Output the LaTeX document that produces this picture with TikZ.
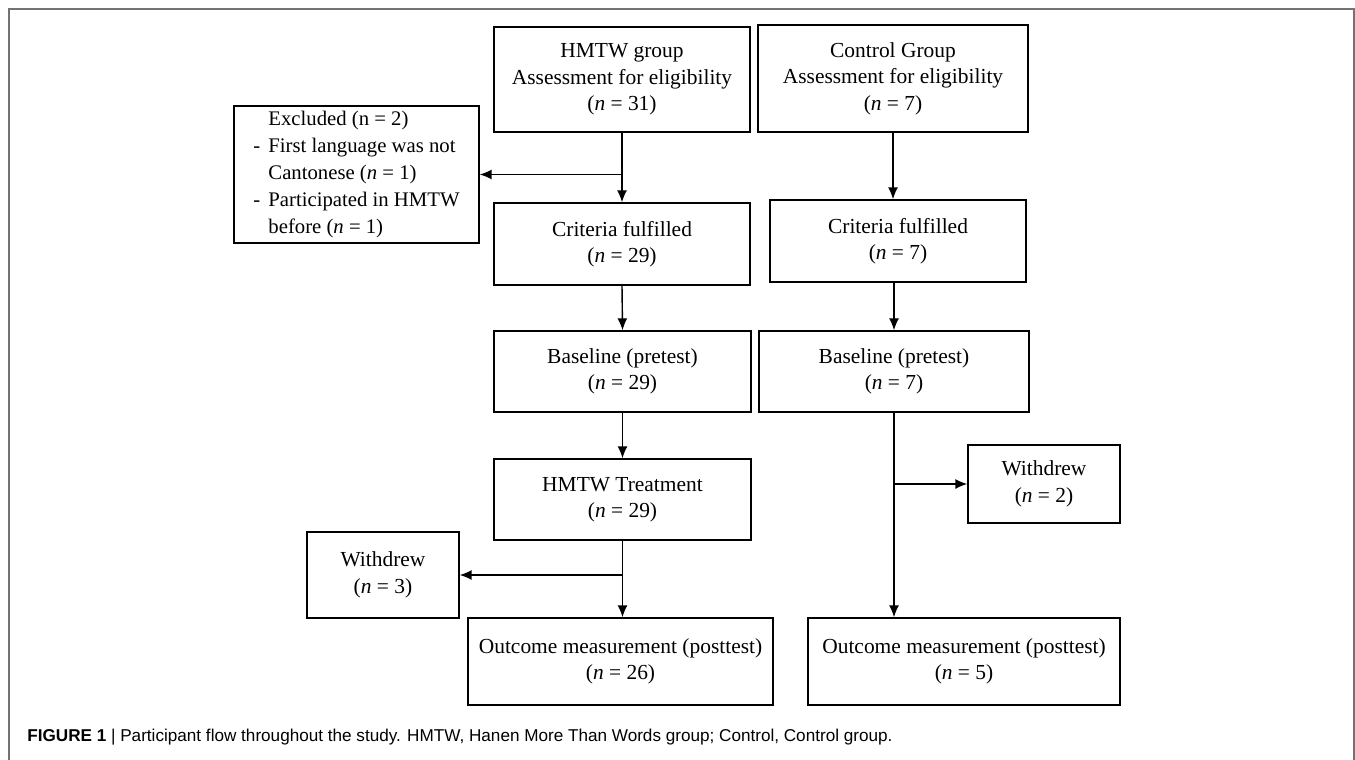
\documentclass[tikz,border=0pt]{standalone}
\usepackage{fontspec}
\setmainfont{Liberation Serif}
\newfontfamily\capfont{Liberation Sans}
\usetikzlibrary{arrows.meta}
\newcommand\nval[1]{(\textit{n} = #1)}
\newcommand\dashitem{\makebox[0.3cm][l]{-}}
\tikzset{
  flowbox/.style={draw, line width=0.8pt, align=center, inner sep=0pt,
    font=\fontsize{12.2}{15}\selectfont},
  flowarrow/.style={line width=0.8pt, -{Latex[length=0.24cm,width=0.2cm]}},
}

\begin{document}
\begin{tikzpicture}[x=0.02cm, y=-0.02cm]
\useasboundingbox (0,0) rectangle (1355,760);
\draw[line width=1pt, black!55] (9,760) -- (9,9) -- (1354,9) -- (1354,760);

\node[flowbox, minimum width=5.12cm, minimum height=2.10cm] (hmtwAssess) at (622,79.5)
  {HMTW group\\Assessment for eligibility\\\nval{31}};
\node[flowbox, minimum width=5.40cm, minimum height=2.14cm] (ctrlAssess) at (893,78.5)
  {Control Group\\Assessment for eligibility\\\nval{7}};

\node[flowbox, minimum width=4.90cm, minimum height=2.74cm, align=left,
  font=\fontsize{11.8}{15.3}\selectfont] (excluded) at (356.5,174.5)
  {\hspace*{0.3cm}Excluded (n = 2)\\
   \dashitem First language was not\\
   \hspace*{0.3cm}Cantonese \nval{1}\\
   \dashitem Participated in HMTW\\
   \hspace*{0.3cm}before \nval{1}};

\node[flowbox, minimum width=5.12cm, minimum height=1.64cm] (hmtwCrit) at (622,244)
  {Criteria fulfilled\\\nval{29}};
\node[flowbox, minimum width=5.12cm, minimum height=1.64cm] (ctrlCrit) at (898,241)
  {Criteria fulfilled\\\nval{7}};

\node[flowbox, minimum width=5.14cm, minimum height=1.62cm] (hmtwBase) at (622.5,371.5)
  {Baseline (pretest)\\\nval{29}};
\node[flowbox, minimum width=5.40cm, minimum height=1.62cm] (ctrlBase) at (894,371.5)
  {Baseline (pretest)\\\nval{7}};

\node[flowbox, minimum width=5.14cm, minimum height=1.62cm] (hmtwTreat) at (622.5,499.5)
  {HMTW Treatment\\\nval{29}};
\node[flowbox, minimum width=3.04cm, minimum height=1.56cm] (ctrlWithdrew) at (1044,484)
  {Withdrew\\\nval{2}};
\node[flowbox, minimum width=3.04cm, minimum height=1.72cm] (hmtwWithdrew) at (383,575)
  {Withdrew\\\nval{3}};

\node[flowbox, minimum width=6.10cm, minimum height=1.74cm] (hmtwOutcome) at (620.5,661.5)
  {Outcome measurement (posttest)\\\nval{26}};
\node[flowbox, minimum width=6.24cm, minimum height=1.74cm] (ctrlOutcome) at (964,661.5)
  {Outcome measurement (posttest)\\\nval{5}};

\draw[flowarrow] (hmtwAssess.south) -- (hmtwCrit.north);
\draw[flowarrow] (hmtwAssess.south |- excluded.east) -- (excluded.east);
\draw[flowarrow] (ctrlAssess.south) -- (ctrlAssess.south |- ctrlCrit.north);
\draw[flowarrow] (hmtwCrit.south) -- (hmtwBase.north);
\draw[flowarrow] (ctrlCrit.south -| ctrlBase.north) -- (ctrlBase.north);
\draw[flowarrow] (hmtwBase.south) -- (hmtwTreat.north);
\draw[flowarrow] (hmtwTreat.south) -- (hmtwTreat.south |- hmtwOutcome.north);
\draw[flowarrow] (hmtwTreat.south |- hmtwWithdrew.east) -- (hmtwWithdrew.east);
\draw[flowarrow] (ctrlBase.south) -- (ctrlBase.south |- ctrlOutcome.north);
\draw[flowarrow] (ctrlBase.south |- ctrlWithdrew.west) -- (ctrlWithdrew.west);

\node[anchor=base west, inner sep=0pt, font=\capfont\fontsize{9.75}{11}\selectfont]
  (caption) at (27,741)
  {\textbf{FIGURE 1} | Participant flow throughout the study. HMTW, Hanen More Than Words group; Control, Control group.};
\end{tikzpicture}
\end{document}
